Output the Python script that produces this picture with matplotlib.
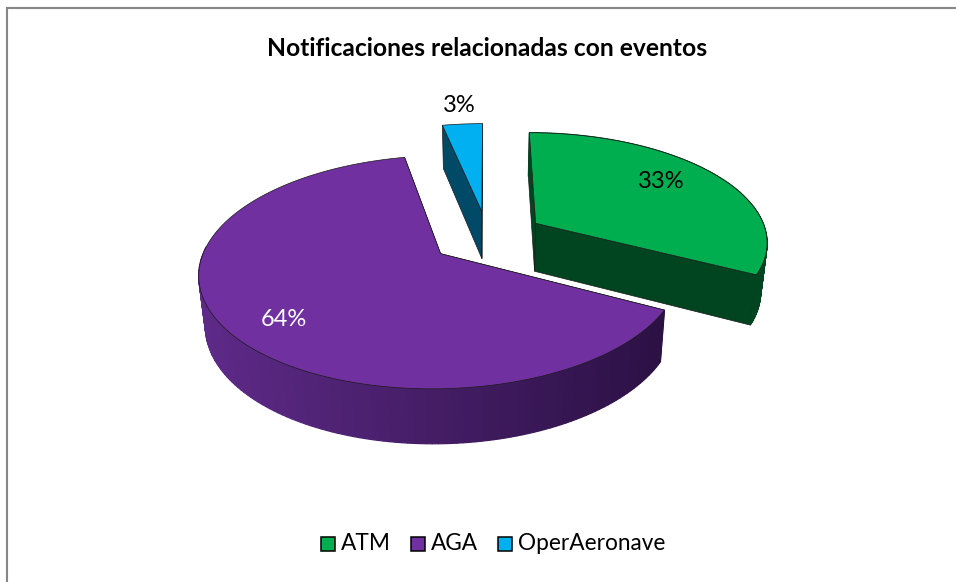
import numpy as np
import matplotlib
matplotlib.use("Agg")
import matplotlib.pyplot as plt
from matplotlib.patches import Polygon, Rectangle

title = "Notificaciones relacionadas con eventos"
labels = ["ATM", "AGA", "OperAeronave"]
values = [32.6, 64.1, 3.3]
top_colors = ["#00ae50", "#7030a0", "#00b0f0"]
cut_colors = ["#004420", "#2d1244", "#004a68"]
explode = 0.248
first_angle = 0.0

# projection of the pie plane into picture pixels
cx, cy = 487.5, 237.0
ax_x, ax_y, persp = 232.0, 108.5, 0.155
depth, depth_k, squeeze = 48.6, 0.1, 0.023


def project(X, Y, z=0.0):
    X = np.asarray(X, dtype=float)
    Y = np.asarray(Y, dtype=float)
    w = 1 + persp * Y
    px = cx + ax_x * X / w * (1 - squeeze * z)
    py = cy - ax_y * Y / w + z * depth / (1 + depth_k * Y)
    return px, py


def poly(ax, px, py, color, zorder=2, lw=0.5):
    ax.add_patch(Polygon(np.column_stack([px, py]), closed=True, facecolor=color,
                         edgecolor="#1a1a1a", linewidth=lw, zorder=zorder))


fig = plt.figure(figsize=(9.56, 5.82), dpi=100)
ax = fig.add_axes([0, 0, 1, 1])
ax.set_xlim(0, 956)
ax.set_ylim(582, 0)
ax.axis("off")

# chart frame
ax.plot([7.5, 7.5], [582, 7.5], color="#868686", lw=1.5)
ax.plot([7.5, 956], [7.5, 7.5], color="#868686", lw=1.5)

total = float(sum(values))
start = first_angle
for i, v in enumerate(values):
    sweep = 360.0 * v / total
    end = start + sweep
    mid = np.radians((start + end) / 2)
    ox, oy = explode * np.sin(mid), explode * np.cos(mid)
    t = np.radians(np.linspace(start, end, 181))
    X = ox + np.sin(t)
    Y = oy + np.cos(t)

    # cut faces
    for a in [t[0], t[-1]]:
        ex, ey = ox + np.sin(a), oy + np.cos(a)
        x0, y0 = project([ox, ex], [oy, ey], 0)
        x1, y1 = project([ex, ox], [ey, oy], 1)
        poly(ax, np.r_[x0, x1], np.r_[y0, y1], cut_colors[i], zorder=2)

    # outer wall, shaded along the arc
    tx, ty = project(X, Y, 0)
    bx, by = project(X, Y, 1)
    for j in range(len(t) - 1):
        if np.cos(t[j]) > 0.05 and i != 0:
            continue
        f = np.clip((tx[j] - 200) / 460.0, 0, 1)
        if i == 1:
            c = (1 - f) * np.array([0x5e, 0x2a, 0x88]) + f * np.array([0x2c, 0x11, 0x45])
            c = c / 255
        else:
            c = cut_colors[i]
        ax.fill([tx[j], tx[j + 1], bx[j + 1], bx[j]], [ty[j], ty[j + 1], by[j + 1], by[j]],
                facecolor=c, edgecolor=c, lw=0.9, zorder=2.5)

    # top surface
    ax0, ay0 = project(ox, oy, 0)
    poly(ax, np.r_[ax0, tx], np.r_[ay0, ty], top_colors[i], zorder=3)
    start = end

font = "Lato"
ax.text(487.5, 49, title, family=font, fontsize=17.7, fontweight="bold", ha="center", va="center", color="black")
pct_pos = [(661, 181, "black"), (283.5, 319.5, "white"), (459, 106, "black")]
for v, (x, y, c) in zip(values, pct_pos):
    ax.text(x, y, "%.0f%%" % v, family=font, fontsize=17, ha="center", va="center", color=c, zorder=5)

# legend
leg_x = [321, 411, 498]
for name, c, x in zip(labels, top_colors, leg_x):
    ax.add_patch(Rectangle((x, 537), 14, 14, facecolor=c, edgecolor="black", linewidth=1.1))
    ax.text(x + 20, 543.5, name, family=font, fontsize=16.3, va="center", ha="left", color="black")

fig.savefig("out.png", dpi=100)
